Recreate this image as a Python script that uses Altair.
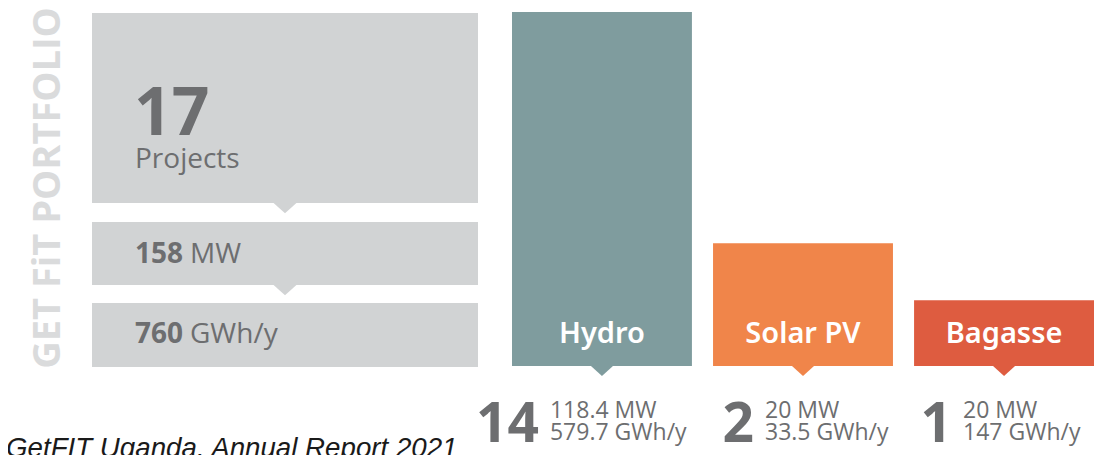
import altair as alt
import pandas as pd

# ---- data ----
technologies = ["Hydro", "Solar PV", "Bagasse"]
project_counts = [14, 2, 1]
capacity_mw = [118.4, 20, 20]
generation_gwh = [579.7, 33.5, 147]
bar_heights = [100, 34.7, 18.6]  # relative column height as drawn (Hydro = 100)

portfolio_title = "GET FiT PORTFOLIO"
total_projects = ["17"]
total_values = ["158", "760"]
total_units = ["MW", "GWh/y"]
caption = "GetFIT Uganda, Annual Report 2021"

# ---- styles ----
tech_colors = ["#7f9c9e", "#f0854a", "#de5c40"]
BOX = "#d1d3d4"
INK = "#6d6e70"
TITLE_INK = "#dadbdc"
FONT = "Open Sans"
POINTER = "M-1,0L1,0L0,0.9Z"

tech = pd.DataFrame({
    "tech": technologies,
    "count": project_counts,
    "mw": capacity_mw,
    "gwh": generation_gwh,
    "h": bar_heights,
})

x_enc = alt.X("tech:N", sort=technologies, axis=None,
              scale=alt.Scale(domain=technologies, range=[504, 1086],
                              paddingInner=0.105, paddingOuter=0))
y_scale = alt.Scale(domain=[0, 100], range=[358, 4])
color_enc = alt.Color("tech:N", scale=alt.Scale(domain=technologies, range=tech_colors), legend=None)

base = alt.Chart(tech)

bars = base.mark_bar().encode(
    x=x_enc, y=alt.Y("h:Q", scale=y_scale, axis=None), color=color_enc)

bar_pointers = base.mark_point(shape=POINTER, filled=True, size=484, opacity=1, strokeWidth=0).encode(
    x=x_enc, y=alt.datum(0), color=color_enc)

bar_names = base.mark_text(font="Noto Sans", fontSize=29, fontWeight=600, color="white",
                           baseline="alphabetic").encode(
    x=x_enc, y=alt.value(335), text="tech:N")

detail_dx = {"Hydro": -52, "Solar PV": -38, "Bagasse": -41}
detail_layers = []
for t in technologies:
    sub = base.transform_filter(alt.datum.tech == t)
    dx = detail_dx[t]
    detail_layers.append(sub.mark_text(font=FONT, fontSize=55, fontWeight="bold", color=INK,
                                       align="right", baseline="alphabetic", dx=dx - 11).encode(
        x=x_enc, y=alt.value(434), text="count:Q"))
    detail_layers.append(sub.transform_calculate(l1="datum.mw + ' MW'").mark_text(
        font=FONT, fontSize=23, color=INK, align="left", baseline="alphabetic", dx=dx).encode(
        x=x_enc, y=alt.value(410), text="l1:N"))
    detail_layers.append(sub.transform_calculate(l2="datum.gwh + ' GWh/y'").mark_text(
        font=FONT, fontSize=23, color=INK, align="left", baseline="alphabetic", dx=dx).encode(
        x=x_enc, y=alt.value(432), text="l2:N"))

# ---- portfolio panel ----
one = alt.Chart(pd.DataFrame({"k": [0]}))

def box(y0, y1):
    return one.mark_rect(color=BOX).encode(
        x=alt.value(84), x2=alt.value(470), y=alt.value(y0), y2=alt.value(y1))

def pointer(y0):
    return one.mark_point(shape=POINTER, filled=True, size=576, opacity=1, strokeWidth=0,
                          color=BOX).encode(x=alt.value(277), y=alt.value(y0))

def label(text, x, y, size, weight="normal", color=INK, **kw):
    return alt.Chart(pd.DataFrame({"t": [text]})).mark_text(
        font=FONT, fontSize=size, fontWeight=weight, color=color, align="left",
        baseline="alphabetic", **kw).encode(x=alt.value(x), y=alt.value(y), text="t:N")

panel = [
    box(5, 195), box(214, 277), box(295, 359),
    pointer(194.5), pointer(276.5),
    label(total_projects[0], 126, 127, 66, "bold"),
    label("Projects", 127, 160, 28),
    label(total_values[0], 127, 255, 28, "bold"),
    label(total_units[0], 182, 255, 28),
    label(total_values[1], 127, 335, 28, "bold"),
    label(total_units[1], 182, 335, 28),
    alt.Chart(pd.DataFrame({"t": [portfolio_title]})).mark_text(
        font=FONT, fontSize=38, fontWeight="bold", color=TITLE_INK, angle=270,
        align="center", baseline="middle").encode(
        x=alt.value(40.5), y=alt.value(180), text="t:N"),
    alt.Chart(pd.DataFrame({"t": [caption]})).mark_text(
        font="Liberation Sans", fontSize=27.7, fontStyle="italic", color="#1a1a1a",
        align="left", baseline="alphabetic").encode(
        x=alt.value(-2), y=alt.value(449), text="t:N"),
]

chart = alt.layer(bars, bar_pointers, bar_names, *detail_layers, *panel).properties(
    width=1087, height=447, padding=0,
    autosize=alt.AutoSizeParams(type="none"),
).configure_view(strokeWidth=0)

chart.save("out.html", embed_options={"renderer": "svg", "actions": False})
